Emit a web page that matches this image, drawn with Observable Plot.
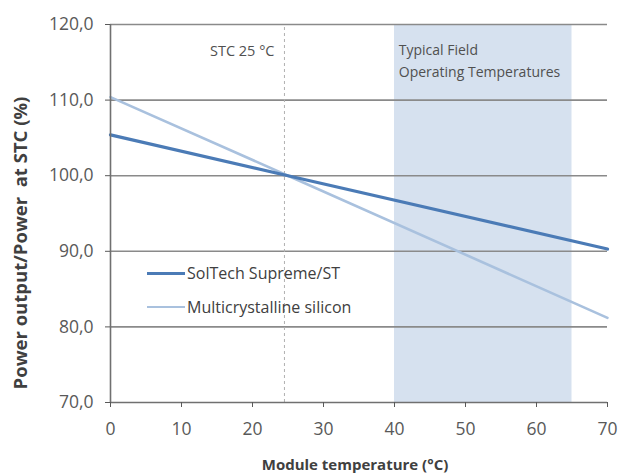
<!DOCTYPE html>
<html>
<head>
<meta charset="utf-8">
<script src="https://cdn.jsdelivr.net/npm/d3@7"></script>
<script src="https://cdn.jsdelivr.net/npm/@observablehq/plot@0.6"></script>
<style>
  body { margin: 0; background: #fff; }
  #wrap { position: relative; width: 620px; height: 475px; font-family: "Open Sans", sans-serif; }
  .leg { position: absolute; left: 147px; display: flex; align-items: center; font-size: 16px; color: #404040; line-height: 20px; }
  .leg span.sw { display: inline-block; width: 38px; margin-right: 2px; }
</style>
</head>
<body>
<div id="wrap"></div>
<script>
// Data
const temps = [0, 25, 70];
const solTech = [105.4, 100.0, 90.3];
const multiSi = [110.4, 100.0, 81.2];
const seriesNames = ["SolTech Supreme/ST", "Multicrystalline silicon"];
const seriesColors = ["#4b7bb6", "#a9c1de"];
const yTicks = [70, 80, 90, 100, 110, 120];
const xTicks = [0, 10, 20, 30, 40, 50, 60, 70];
const stcTemp = 24.5;
const fieldRange = [40, 65];
const stcLabel = "STC 25 °C";
const fieldLabels = ["Typical Field", "Operating Temperatures"];

const rows = [];
temps.forEach((t, i) => {
  rows.push({series: seriesNames[1], t, p: multiSi[i]});
});
temps.forEach((t, i) => {
  rows.push({series: seriesNames[0], t, p: solTech[i]});
});

const fmt = d => d.toFixed(1).replace(".", ",");

const chart = Plot.plot({
  width: 620,
  height: 475,
  marginLeft: 110,
  marginRight: 13,
  marginTop: 24,
  marginBottom: 73,
  style: {fontFamily: "Open Sans, sans-serif", background: "#fff"},
  x: {domain: [0, 70]},
  y: {domain: [70, 120]},
  marks: [
    Plot.rect([{x1: fieldRange[0], x2: fieldRange[1]}], {x1: "x1", x2: "x2", y1: 70, y2: 120, fill: "#d6e1ef"}),
    Plot.ruleY(yTicks.filter(d => d > 70), {stroke: "#8a8a8a", strokeWidth: 1.6}),
    Plot.ruleX([stcTemp], {y1: 70, y2: 120, stroke: "#b0b0b0", strokeWidth: 1, strokeDasharray: "3,3"}),
    Plot.line(rows, {x: "t", y: "p", z: "series", stroke: "series", strokeWidth: d => d.series === seriesNames[0] ? 3.2 : 2.6}),
    Plot.ruleY([70], {stroke: "#707070", strokeWidth: 1.6}),
    Plot.ruleX([0], {stroke: "#707070", strokeWidth: 1.6}),
    Plot.axisY({ticks: yTicks, tickFormat: fmt, tickSize: 5, tickPadding: 12, fontSize: 17.5, color: "#595959",
      label: "Power output/Power  at STC (%)", labelAnchor: "center", labelArrow: "none", labelOffset: 96}),
    Plot.axisX({ticks: xTicks, tickSize: 5, tickPadding: 15, fontSize: 17.5, color: "#595959",
      label: "Module temperature (°C)", labelAnchor: "center", labelArrow: "none", labelOffset: 60}),
    Plot.text([stcLabel], {x: stcTemp - 1.4, y: 116.5, text: d => d, textAnchor: "end", fontSize: 14.5, fill: "#505050"}),
    Plot.text([fieldLabels[0]], {x: fieldRange[0] + 0.6, y: 116.5, text: d => d, textAnchor: "start", fontSize: 14, fill: "#505050"}),
    Plot.text([fieldLabels[1]], {x: fieldRange[0] + 0.6, y: 113.7, text: d => d, textAnchor: "start", fontSize: 14, fill: "#505050"})
  ],
  color: {domain: seriesNames, range: seriesColors}
});
chart.style.position = "absolute";
chart.style.left = "0";
chart.style.top = "0";
const wrap = document.getElementById("wrap");
wrap.appendChild(chart);

// style axis labels
d3.select(chart).selectAll("[aria-label='y-axis label'] text")
  .attr("font-weight", "bold").attr("fill", "#404040").attr("font-size", 18.5)
  .attr("transform", "translate(21,243) rotate(-90)").attr("x", null).attr("y", null)
  .attr("dy", "0.35em").attr("text-anchor", "middle");
d3.select(chart).selectAll("[aria-label='y-axis label']").attr("transform", null);
d3.select(chart).selectAll("[aria-label='x-axis label'] text")
  .attr("font-weight", "bold").attr("fill", "#404040").attr("font-size", 15)
  .attr("transform", "translate(355,465)").attr("x", null).attr("y", null)
  .attr("dy", "0.35em").attr("text-anchor", "middle");
d3.select(chart).selectAll("[aria-label='x-axis label']").attr("transform", null);

// legend
const legTops = [263, 297];
seriesNames.forEach((name, i) => {
  const div = document.createElement("div");
  div.className = "leg";
  div.style.top = legTops[i] + "px";
  div.innerHTML = `<span class="sw" style="border-top:${i === 0 ? 3.2 : 2.6}px solid ${seriesColors[i]}"></span>${name}`;
  wrap.appendChild(div);
});
</script>
</body>
</html>
